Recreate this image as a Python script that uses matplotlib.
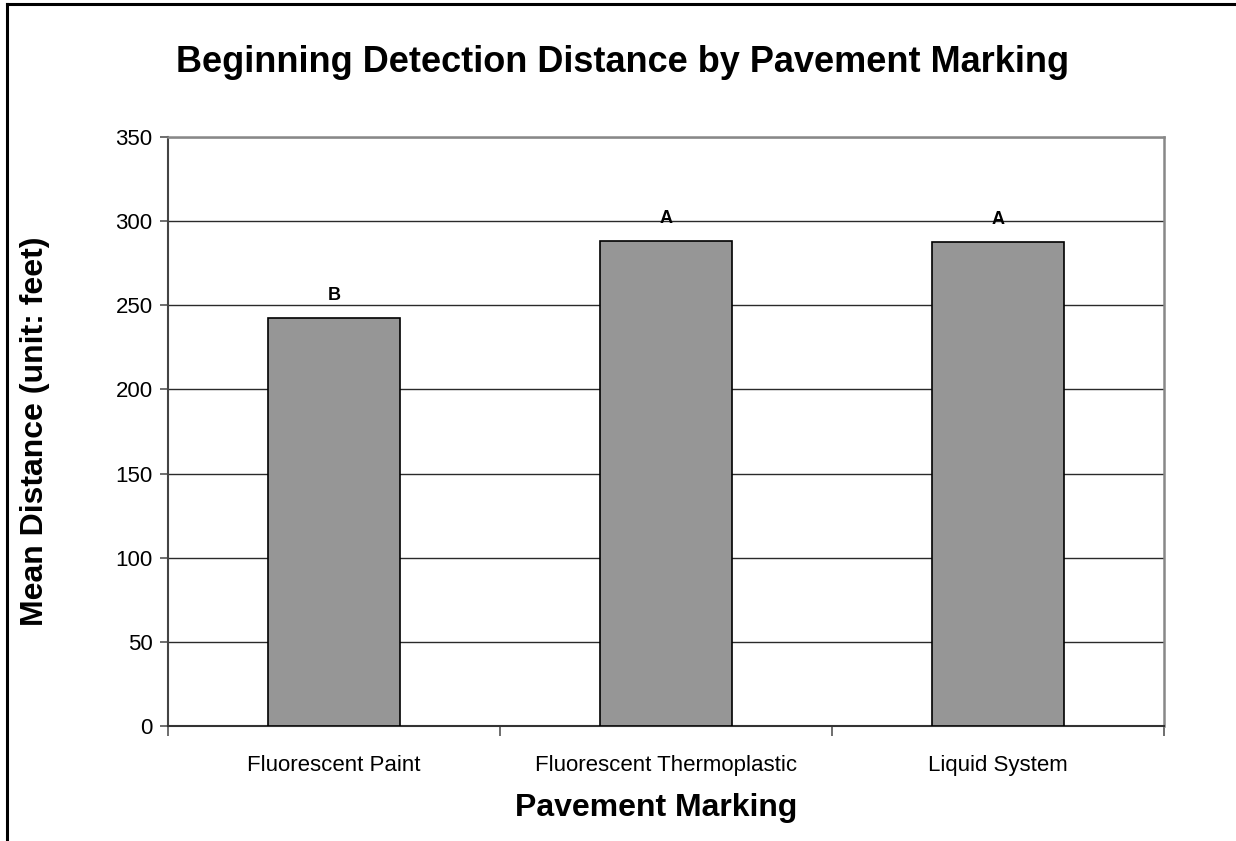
import matplotlib
matplotlib.use("Agg")
from matplotlib import pyplot as plt
from matplotlib.lines import Line2D

categories = ["Fluorescent Paint", "Fluorescent Thermoplastic", "Liquid System"]
mean_distance = [242.6, 288.4, 287.8]
group_letters = ["B", "A", "A"]
y_ticks = [0, 50, 100, 150, 200, 250, 300, 350]

plt.rcParams["font.family"] = ["Liberation Sans", "DejaVu Sans"]

fig = plt.figure(figsize=(12.36, 8.41), dpi=100)
ax = fig.add_axes([168 / 1236, 1 - 726 / 841, 996 / 1236, 589 / 841])

x = list(range(len(categories)))
ax.bar(x, mean_distance, width=0.4, color="#969696", edgecolor="black", linewidth=1.2, zorder=3)
for xi, v, lab in zip(x, mean_distance, group_letters):
    ax.text(xi, v + 8, lab, ha="center", va="bottom", fontsize=13, fontweight="bold", zorder=4)

ax.set_xlim(-0.5, len(categories) - 0.5)
ax.set_ylim(0, 350)
ax.set_yticks(y_ticks)
ax.set_yticklabels([str(t) for t in y_ticks], fontsize=16)
ax.yaxis.grid(True, color="#2a2a2a", linewidth=1.0, zorder=0)
ax.set_axisbelow(True)

# categories centred between the tick marks
ax.set_xticks([i - 0.5 for i in range(len(categories) + 1)])
ax.set_xticklabels([])
ax.set_xticks(x, minor=True)
ax.set_xticklabels(categories, minor=True, fontsize=16)
ax.tick_params(axis="x", which="major", length=7, width=1.2, color="#555555", direction="out")
ax.tick_params(axis="x", which="minor", length=0, pad=21)
ax.tick_params(axis="y", length=6, width=1.2, color="#555555", pad=5)

for side in ["top", "right"]:
    ax.spines[side].set_color("#888888")
    ax.spines[side].set_linewidth(1.8)
ax.spines["left"].set_color("#444444")
ax.spines["left"].set_linewidth(1.5)
ax.spines["bottom"].set_color("#333333")
ax.spines["bottom"].set_linewidth(1.5)

ax.set_xlabel("Pavement Marking", fontsize=23, fontweight="bold", va="center")
ax.xaxis.set_label_coords(0.49, (726 - 808) / 589)
ax.set_ylabel("Mean Distance (unit: feet)", fontsize=23, fontweight="bold", va="center")
ax.yaxis.set_label_coords((35 - 168) / 996, 0.5)
fig.text(623 / 1236, 1 - 62 / 841, "Beginning Detection Distance by Pavement Marking",
         ha="center", va="center", fontsize=26, fontweight="bold")

# outer frame: only top and left edges are visible in the original
fig.add_artist(Line2D([7 / 1236, 7 / 1236], [0, 1 - 4 / 841], transform=fig.transFigure, color="black", linewidth=2.2))
fig.add_artist(Line2D([7 / 1236, 1], [1 - 4 / 841, 1 - 4 / 841], transform=fig.transFigure, color="black", linewidth=2.2))

fig.savefig("out.png", dpi=100)
